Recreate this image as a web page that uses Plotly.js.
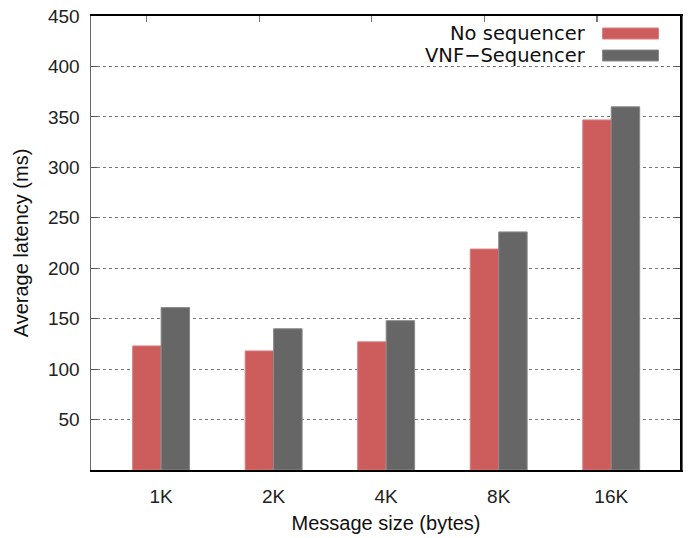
<!DOCTYPE html>
<html>
<head>
<meta charset="utf-8">
<script src="https://cdn.plot.ly/plotly-3.0.1.min.js"></script>
<style>
  html, body { margin: 0; padding: 0; background: #fff; }
  #chart { width: 689px; height: 538px; }
</style>
</head>
<body>
<div id="chart"></div>
<script>
// Message sizes and measured average latency (ms)
const sizes = ['1K', '2K', '4K', '8K', '16K'];
const noSequencer = [123, 118, 127, 219, 347];
const vnfSequencer = [161, 140, 148, 236, 360];
const seriesNames = ['No sequencer', 'VNF\u2212Sequencer'];
const seriesColors = ['#cd5c5c', '#666666'];
const yTicks = [50, 100, 150, 200, 250, 300, 350, 400, 450];

const xRange = [-0.623, 4.62];
const barOffset = 0.127; // centre of the first bar within each group

const traces = [
  {
    type: 'bar', x: sizes, y: noSequencer, name: seriesNames[0],
    marker: { color: seriesColors[0], line: { color: '#d98080', width: 1 } },
    showlegend: false, hoverinfo: 'x+y'
  },
  {
    type: 'bar', x: sizes, y: vnfSequencer, name: seriesNames[1],
    marker: { color: seriesColors[1], line: { color: '#8a8a8a', width: 1 } },
    showlegend: false, hoverinfo: 'x+y'
  },
  // invisible trace carrying the mirrored top tick marks
  {
    type: 'scatter', x: [xRange[0]], y: [0], xaxis: 'x2', yaxis: 'y',
    mode: 'markers', marker: { opacity: 0 }, showlegend: false, hoverinfo: 'skip'
  }
];

// Key drawn top-right: label text followed by a colour swatch
const shapes = [];
const annotations = [];
seriesNames.forEach((name, i) => {
  const yc = 33.5 + i * 22; // pixel row centre from the top of the figure
  annotations.push({
    xref: 'paper', yref: 'paper',
    x: (588 - 91) / 590.5, y: 1 - (yc - 16) / 454,
    xanchor: 'right', yanchor: 'middle',
    text: name, showarrow: false,
    font: { family: 'DejaVu Sans', size: 19.5, color: '#111' }
  });
  shapes.push({
    type: 'rect', xref: 'paper', yref: 'paper',
    x0: (603 - 91) / 590.5, x1: (659 - 91) / 590.5,
    y0: 1 - (yc + 5.5 - 16) / 454, y1: 1 - (yc - 5.5 - 16) / 454,
    fillcolor: seriesColors[i], line: { color: i === 0 ? '#d98080' : '#8a8a8a', width: 1 }
  });
});
// right-hand frame edge
shapes.push({
  type: 'line', xref: 'paper', yref: 'paper', x0: 1, x1: 1, y0: 0, y1: 1,
  line: { color: '#000', width: 2 }
});

const layout = {
  width: 689, height: 538,
  margin: { l: 91, r: 7.5, t: 16, b: 68 },
  paper_bgcolor: '#fff', plot_bgcolor: '#fff',
  barmode: 'group', bargap: 0.494, bargroupgap: 0,
  font: { family: 'Liberation Sans, Arial, sans-serif', color: '#222' },
  xaxis: {
    type: 'category', range: xRange, fixedrange: true,
    showline: true, linecolor: '#000', linewidth: 2, mirror: true,
    ticks: '', showgrid: false, zeroline: false,
    ticklabelstandoff: 8,
    tickfont: { size: 19, color: '#222' },
    title: { text: 'Message size (bytes)', font: { size: 20, color: '#111' }, standoff: 10 }
  },
  xaxis2: {
    overlaying: 'x', side: 'top', range: xRange, type: 'linear',
    tickmode: 'array', tickvals: sizes.map((s, i) => i - barOffset),
    showticklabels: false, ticks: 'inside', ticklen: 6, tickwidth: 1.2, tickcolor: '#777',
    showgrid: false, zeroline: false, showline: false, fixedrange: true
  },
  yaxis: {
    range: [0, 450], fixedrange: true,
    tickmode: 'array', tickvals: yTicks, ticktext: yTicks.map(String),
    ticks: 'inside', ticklen: 6, tickcolor: '#555', tickwidth: 1,
    showline: true, linecolor: '#666', linewidth: 1.5, mirror: 'ticks',
    showgrid: true, gridcolor: '#777', griddash: 'dot', gridwidth: 1,
    zeroline: false,
    ticklabelstandoff: 6,
    tickfont: { size: 19, color: '#222' },
    title: { text: 'Average latency (ms)', font: { size: 20, color: '#111' }, standoff: 14 }
  },
  shapes: shapes,
  annotations: annotations
};

Plotly.newPlot('chart', traces, layout, { displayModeBar: false, staticPlot: true });
</script>
</body>
</html>
